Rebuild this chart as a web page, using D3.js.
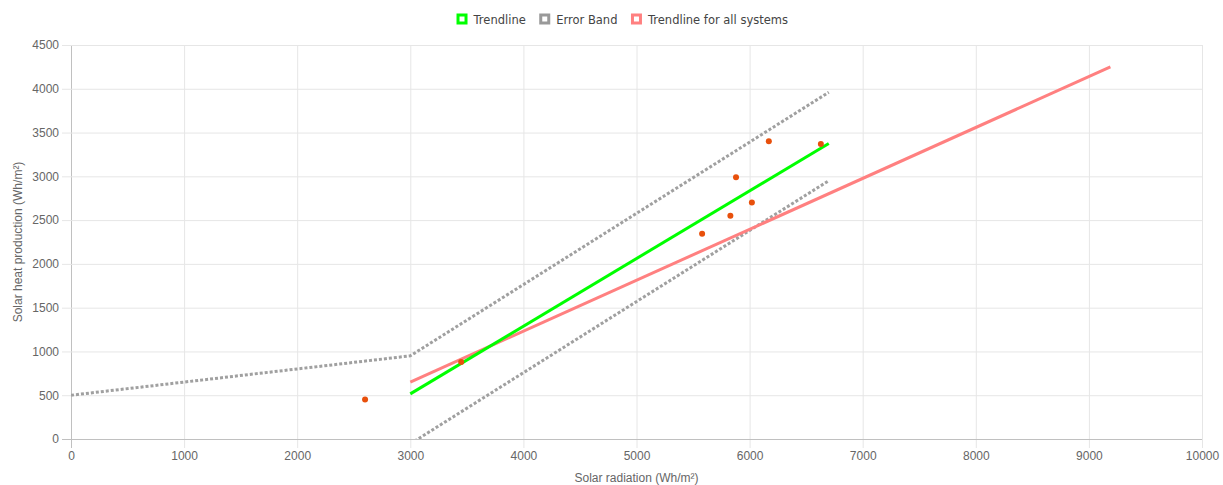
<!DOCTYPE html>
<html>
<head>
<meta charset="utf-8">
<script src="https://cdn.jsdelivr.net/npm/d3@7/dist/d3.min.js"></script>
<style>
  body { margin: 0; background: #fff; }
  svg { display: block; }
</style>
</head>
<body>
<div id="chart"></div>
<script>
// readings: solar radiation (x) vs solar heat production (y), Wh/m²
var pointX = [2600, 3450, 5580, 5830, 5880, 6020, 6170, 6630];
var pointY = [450, 880, 2345, 2550, 2990, 2700, 3400, 3370];

var trendX = [3000, 6700];
var trendY = [515, 3375];

var allSystemsX = [3000, 9190];
var allSystemsY = [650, 4250];

var bandUpperX = [0, 3000, 6700];
var bandUpperY = [500, 950, 3960];
var bandLowerX = [3000, 6700];
var bandLowerY = [-55, 2950];

var xTicks = [0, 1000, 2000, 3000, 4000, 5000, 6000, 7000, 8000, 9000, 10000];
var yTicks = [0, 500, 1000, 1500, 2000, 2500, 3000, 3500, 4000, 4500];

var legendNames = ["Trendline", "Error Band", "Trendline for all systems"];
var legendColors = ["#00ff00", "#999999", "#ff8080"];

var svgWidth = 1223, svgHeight = 485;
var margin = { top: 45, right: 21, bottom: 46, left: 71 };
var chartWidth = svgWidth - margin.left - margin.right;
var chartHeight = svgHeight - margin.top - margin.bottom;

var svg = d3.select("#chart").append("svg")
    .attr("width", svgWidth)
    .attr("height", svgHeight);

var xScale = d3.scaleLinear().domain([0, 10000]).range([0, chartWidth]);
var yScale = d3.scaleLinear().domain([0, 4500]).range([chartHeight, 0]);

var chartGroup = svg.append("g")
    .attr("transform", `translate(${margin.left}, ${margin.top})`);

// grid lines (ticks extend past the axes like chart.js)
var xAxis = d3.axisBottom(xScale).tickValues(xTicks).tickSize(-chartHeight - 9).tickPadding(3).tickFormat(d3.format("d"));
var yAxis = d3.axisLeft(yScale).tickValues(yTicks).tickSize(-chartWidth - 9).tickPadding(3).tickFormat(d3.format("d"));

var gx = chartGroup.append("g")
    .attr("transform", `translate(0, ${chartHeight + 9})`)
    .call(xAxis);
var gy = chartGroup.append("g")
    .attr("transform", "translate(-9, 0)")
    .call(yAxis);

[gx, gy].forEach(function(g) {
    g.select(".domain").remove();
    g.selectAll(".tick line").attr("stroke", "#e6e6e6").attr("stroke-width", 1);
    g.selectAll(".tick text")
        .attr("fill", "#666")
        .style("font-family", "'Liberation Sans', Arial, sans-serif")
        .style("font-size", "12px");
});
gx.selectAll(".tick line").filter(function(d) { return d === 0; }).attr("stroke", "#c0c0c0");
gy.selectAll(".tick line").filter(function(d) { return d === 0; }).attr("stroke", "#c0c0c0");

// axis titles
chartGroup.append("text")
    .attr("transform", "rotate(-90)")
    .attr("x", -chartHeight / 2)
    .attr("y", -49)
    .attr("text-anchor", "middle")
    .attr("fill", "#666")
    .style("font-family", "'Liberation Sans', Arial, sans-serif")
    .style("font-size", "12px")
    .text("Solar heat production (Wh/m²)");

chartGroup.append("text")
    .attr("x", chartWidth / 2)
    .attr("y", chartHeight + 43)
    .attr("text-anchor", "middle")
    .attr("fill", "#666")
    .style("font-family", "'Liberation Sans', Arial, sans-serif")
    .style("font-size", "12px")
    .text("Solar radiation (Wh/m²)");

// clip lines to chart area
svg.append("defs").append("clipPath").attr("id", "plot-clip")
    .append("rect").attr("x", 0).attr("y", 0).attr("width", chartWidth).attr("height", chartHeight);

var plot = chartGroup.append("g").attr("clip-path", "url(#plot-clip)");

var line = d3.line()
    .x(function(d) { return xScale(d[0]); })
    .y(function(d) { return yScale(d[1]); });

function zip(xs, ys) { return xs.map(function(x, i) { return [x, ys[i]]; }); }

plot.append("path")
    .datum(zip(bandUpperX, bandUpperY))
    .attr("d", line)
    .attr("fill", "none")
    .attr("stroke", "#a0a0a0")
    .attr("stroke-width", 3)
    .attr("stroke-dasharray", "3,2");

plot.append("path")
    .datum(zip(bandLowerX, bandLowerY))
    .attr("d", line)
    .attr("fill", "none")
    .attr("stroke", "#a0a0a0")
    .attr("stroke-width", 3)
    .attr("stroke-dasharray", "3,2");

plot.append("path")
    .datum(zip(allSystemsX, allSystemsY))
    .attr("d", line)
    .attr("fill", "none")
    .attr("stroke", "#ff8080")
    .attr("stroke-width", 3);

plot.append("path")
    .datum(zip(trendX, trendY))
    .attr("d", line)
    .attr("fill", "none")
    .attr("stroke", "#00ff00")
    .attr("stroke-width", 3);

chartGroup.selectAll("circle.points")
    .data(zip(pointX, pointY))
    .enter()
    .append("circle")
    .attr("class", "points")
    .attr("cx", function(d) { return xScale(d[0]); })
    .attr("cy", function(d) { return yScale(d[1]); })
    .attr("r", 3)
    .attr("fill", "#e8500c");

// legend
var legend = svg.append("g");
var items = legend.selectAll("g.item")
    .data(legendNames)
    .enter()
    .append("g")
    .attr("class", "item");

items.append("rect")
    .attr("x", 1.5).attr("y", 15)
    .attr("width", 8).attr("height", 8)
    .attr("fill", "#fff")
    .attr("stroke", function(d, i) { return legendColors[i]; })
    .attr("stroke-width", 3);

items.append("text")
    .attr("x", 17)
    .attr("y", 24)
    .attr("fill", "#444")
    .style("font-family", "'DejaVu Sans', Verdana, sans-serif")
    .style("font-size", "11.5px")
    .text(function(d) { return d; });

var widths = [];
items.each(function() { widths.push(this.getBBox().width); });
var gap = 15;
var total = d3.sum(widths) + gap * (widths.length - 1);
var xpos = 621.5 - total / 2;
items.attr("transform", function(d, i) {
    var t = `translate(${xpos}, 0)`;
    xpos += widths[i] + gap;
    return t;
});
</script>
</body>
</html>
